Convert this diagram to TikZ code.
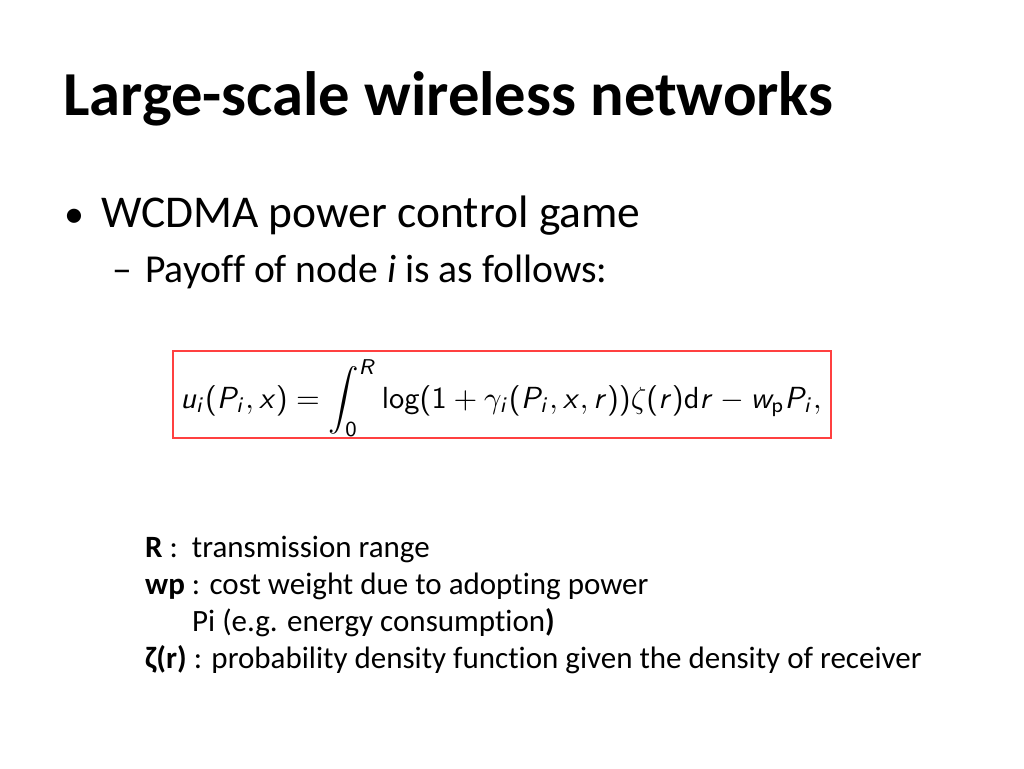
\documentclass[tikz,border=0pt]{standalone}
\usepackage{amsmath}
\usepackage{fontspec}
\setmainfont{Carlito}[Ligatures={NoCommon,NoRare,NoContextual}]
\DeclareMathAlphabet{\mathsfit}{OT1}{cmss}{m}{sl}
\newcommand{\slp}{\mathopen{\textsf{(}}}
\newcommand{\srp}{\mathclose{\textsf{)}}}
\begin{document}
\begin{tikzpicture}[x=1pt,y=-1pt,
  titletext/.style={anchor=base west,inner sep=0pt,font=\fontsize{62.6}{75}\selectfont\bfseries},
  leveltext/.style={anchor=base west,inner sep=0pt,font=\fontsize{45.5}{55}\selectfont},
  subtext/.style={anchor=base west,inner sep=0pt,font=\fontsize{39.6}{48}\selectfont},
  notetext/.style={anchor=base west,inner sep=0pt,font=\fontsize{31}{37}\selectfont},
  formbox/.style={draw=red!75!white,line width=1.3pt,inner sep=0pt,minimum width=658pt,minimum height=87pt}]
\useasboundingbox (0,0) rectangle (1024,768);
\node[titletext] (title) at (63,115) {Large-scale wireless networks};
\node[anchor=base west,inner sep=0pt,font=\fontsize{40}{46}\selectfont] (b1) at (64,227) {•};
\node[anchor=base west,inner sep=0pt,font=\fontsize{39.6}{48}\selectfont] (d1) at (112,282) {–};
\node[leveltext] (l1) at (101,227) {WCDMA power control game};
\node[subtext] (l2) at (145,282) {Payoff of node \textit{i} is as follows:};
\node[formbox] (box) at (502,394.5) {};
\node[inner sep=0pt,anchor=center] (formula) at (501,398) {\scalebox{3.05}{$\displaystyle
\mathsfit{u}_{\mathsfit{i}}\slp\mathsfit{P}_{\mathsfit{i}},\mathsfit{x}\srp
=\int_{\mathsf{0}}^{\mathsfit{R}}\mathsf{log}\slp\mathsf{1}+\gamma_{\mathsfit{i}}\slp\mathsfit{P}_{\mathsfit{i}},\mathsfit{x},\mathsfit{r}\srp\srp\zeta\slp\mathsfit{r}\srp\mathsf{d}\mathsfit{r}-\mathsfit{w}_{\mathsf{p}}\mathsfit{P}_{\mathsfit{i}},$}};
\node[notetext] (n1) at (145,557) {\textbf{R} :\ \ transmission range};
\node[notetext] (n2) at (145,594) {\textbf{wp} : cost weight due to adopting power};
\node[notetext] (n3) at (192,631) {Pi (e.g. energy consumption\textbf{)}};
\node[notetext] (n4) at (145,668) {\textbf{ζ(r)} : probability density function given the density of receiver};
\end{tikzpicture}
\end{document}
